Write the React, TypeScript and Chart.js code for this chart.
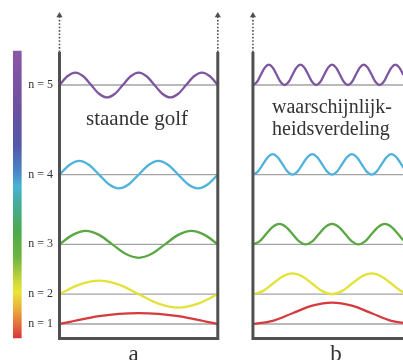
import React, { useEffect, useRef } from "react";
import { Chart, registerables } from "chart.js";
Chart.register(...registerables);

// ---- data ----
const levels = [1, 4, 9, 16, 25];
const levelLabels = ["n = 1", "n = 2", "n = 3", "n = 4", "n = 5"];
const panelLabels = ["a", "b"];
const titleA = ["staande golf"];
const titleB = ["waarschijnlijk-", "heidsverdeling"];

// panel a: standing-wave displacement, evenly spaced samples across the box
const waveA1 = [0, 0.42, 0.78, 1.02, 1.1, 1.02, 0.78, 0.42, 0];
const waveA2 = [0, 0.96, 1.36, 0.96, 0, -0.96, -1.36, -0.96, 0];
const waveA3 = [0, 0.95, 1.35, 0.95, 0, -0.95, -1.35, -0.95, 0, 0.95, 1.35, 0.95, 0];
const waveA4 = [0, 0.97, 1.38, 0.97, 0, -0.97, -1.38, -0.97, 0, 0.97, 1.38, 0.97, 0, -0.97, -1.38, -0.97, 0];
const waveA5 = [0, 0.88, 1.25, 0.88, 0, -0.88, -1.25, -0.88, 0, 0.88, 1.25, 0.88, 0, -0.88, -1.25, -0.88, 0, 0.88, 1.25, 0.88, 0];

// panel b: probability distribution, evenly spaced samples across the box
const waveB1 = [0, 0.31, 1.08, 1.84, 2.15, 1.84, 1.08, 0.31, 0];
const waveB2 = [0, 0.3, 1.04, 1.78, 2.08, 1.78, 1.04, 0.3, 0, 0.3, 1.04, 1.78, 2.08, 1.78, 1.04, 0.3, 0];
const waveB3 = [0, 0.3, 1.03, 1.75, 2.05, 1.75, 1.03, 0.3, 0, 0.3, 1.03, 1.75, 2.05, 1.75, 1.03, 0.3, 0, 0.3, 1.03, 1.75, 2.05, 1.75, 1.03, 0.3, 0];
const waveB4 = [0, 0.3, 1.03, 1.75, 2.05, 1.75, 1.03, 0.3, 0, 0.3, 1.03, 1.75, 2.05, 1.75, 1.03, 0.3, 0, 0.3, 1.03, 1.75, 2.05, 1.75, 1.03, 0.3, 0, 0.3, 1.03, 1.75, 2.05, 1.75, 1.03, 0.3, 0];
const waveB5 = [0, 0.3, 1.03, 1.75, 2.05, 1.75, 1.03, 0.3, 0, 0.3, 1.03, 1.75, 2.05, 1.75, 1.03, 0.3, 0, 0.3, 1.03, 1.75, 2.05, 1.75, 1.03, 0.3, 0, 0.3, 1.03, 1.75, 2.05, 1.75, 1.03, 0.3, 0, 0.3, 1.03, 1.75, 2.05, 1.75, 1.03, 0.3, 0];

const wavesA = [waveA1, waveA2, waveA3, waveA4, waveA5];
const wavesB = [waveB1, waveB2, waveB3, waveB4, waveB5];

// ---- geometry / styles ----
const BOX_A = 0;
const BOX_B = 1.222;
const WALL_TOP = 28.31;
const BOX_BOTTOM = -0.456;
const ARROW_TIP = 31.98;
const BAR_X = -0.2666;
const BAR_RANGE = [-0.4, 28.41];
const levelColors = ["#d63a3c", "#e2e23a", "#5ba744", "#4fb2db", "#7d55a0"];
const WALL = "#505050";
const BASE = "#a3a3a3";
const TEXT = "#333333";
const SERIF = "'Liberation Serif', 'DejaVu Serif', serif";

function curve(x0: number, base: number, vals: number[]) {
  const n = vals.length - 1;
  return vals.map((v, i) => ({ x: x0 + i / n, y: base + v }));
}

const textPlugin = {
  id: "texts",
  afterDatasetsDraw(chart: any) {
    const ctx = chart.ctx;
    const ys = chart.scales.y;
    ctx.save();
    ctx.fillStyle = TEXT;
    ctx.font = `12px ${SERIF}`;
    ctx.textAlign = "right";
    ctx.textBaseline = "middle";
    levels.forEach((lv, i) => {
      ctx.fillText(levelLabels[i], 53, ys.getPixelForValue(lv));
    });
    ctx.textAlign = "left";
    ctx.textBaseline = "alphabetic";
    ctx.font = `21px ${SERIF}`;
    ctx.fillText(titleA[0], 86, 125);
    ctx.font = `20px ${SERIF}`;
    ctx.fillText(titleB[0], 272, 112.5);
    ctx.fillText(titleB[1], 272, 135);
    ctx.textAlign = "center";
    ctx.font = `23px ${SERIF}`;
    ctx.fillText(panelLabels[0], 133.5, 360.5);
    ctx.fillText(panelLabels[1], 336, 360.5);
    ctx.restore();
  },
};

export default function App() {
  const ref = useRef<HTMLCanvasElement | null>(null);
  useEffect(() => {
    if (!ref.current) return;
    const datasets: any[] = [];

    // walls
    const wallStyle = {
      borderColor: WALL, borderWidth: 3, pointRadius: 0, tension: 0,
      borderJoinStyle: "miter", borderCapStyle: "butt", fill: false, order: 1,
    };
    datasets.push({
      ...wallStyle,
      data: [
        { x: BOX_A, y: WALL_TOP }, { x: BOX_A, y: BOX_BOTTOM },
        { x: BOX_A + 1, y: BOX_BOTTOM }, { x: BOX_A + 1, y: WALL_TOP },
      ],
    });
    datasets.push({
      ...wallStyle,
      data: [{ x: BOX_B, y: WALL_TOP }, { x: BOX_B, y: BOX_BOTTOM }, { x: BOX_B + 1.2, y: BOX_BOTTOM }],
    });
    // dotted arrows
    [BOX_A, BOX_A + 1, BOX_B].forEach((x) => {
      datasets.push({
        data: [{ x, y: WALL_TOP }, { x, y: ARROW_TIP }],
        borderColor: WALL, borderWidth: 1.6, borderDash: [1.6, 1.8],
        pointRadius: [0, 3.6], pointStyle: "triangle",
        pointBackgroundColor: WALL, pointBorderColor: WALL, pointBorderWidth: 0,
        fill: false, order: 1,
      });
    });
    // baselines and waves
    levels.forEach((lv, i) => {
      [BOX_A, BOX_B].forEach((x0) => {
        datasets.push({
          data: [{ x: x0, y: lv }, { x: x0 + 1, y: lv }],
          borderColor: BASE, borderWidth: 1.3, pointRadius: 0, fill: false, order: 4,
        });
      });
      datasets.push({
        data: curve(BOX_A, lv, wavesA[i]),
        borderColor: levelColors[i], borderWidth: 2.3, pointRadius: 0,
        cubicInterpolationMode: "monotone", fill: false, order: 2,
      });
      datasets.push({
        data: curve(BOX_B, lv, wavesB[i]),
        borderColor: levelColors[i], borderWidth: 2.3, pointRadius: 0,
        cubicInterpolationMode: "monotone", fill: false, order: 2,
      });
    });
    // colour bar
    datasets.push({
      type: "bar",
      data: [{ x: BAR_X, y: BAR_RANGE }],
      barThickness: 8,
      borderWidth: 0,
      order: 5,
      backgroundColor: (c: any) => {
        const chart = c.chart;
        if (!chart.chartArea) return "#888";
        const ys = chart.scales.y;
        const g = chart.ctx.createLinearGradient(0, ys.getPixelForValue(BAR_RANGE[1]), 0, ys.getPixelForValue(BAR_RANGE[0]));
        g.addColorStop(0.0, "#8c57a6");
        g.addColorStop(0.2, "#6c4f9f");
        g.addColorStop(0.33, "#5258a8");
        g.addColorStop(0.42, "#4a86c4");
        g.addColorStop(0.47, "#49b2d6");
        g.addColorStop(0.53, "#45ab9c");
        g.addColorStop(0.63, "#4caa4a");
        g.addColorStop(0.72, "#70b540");
        g.addColorStop(0.8, "#c8d83a");
        g.addColorStop(0.84, "#eae535");
        g.addColorStop(0.91, "#e9a33a");
        g.addColorStop(1.0, "#d9363d");
        return g;
      },
    });

    const chart = new Chart(ref.current, {
      type: "line",
      data: { datasets },
      options: {
        animation: false,
        responsive: false,
        devicePixelRatio: 1,
        layout: { padding: 0, autoPadding: false },
        plugins: { legend: { display: false }, tooltip: { enabled: false }, title: { display: false } },
        events: [],
        scales: {
          x: { type: "linear", min: -0.3759, max: 2.17, display: false, offset: false, grid: { offset: false } },
          y: { type: "linear", min: -2.615, max: 33.537, display: false, offset: false },
        },
      } as any,
      plugins: [textPlugin],
    });
    return () => chart.destroy();
  }, []);
  return (
    <div style={{ position: "fixed", left: 0, top: 0, width: 403, height: 360, background: "#fff" }}>
      <canvas ref={ref} width={403} height={360} style={{ display: "block" }} />
    </div>
  );
}
